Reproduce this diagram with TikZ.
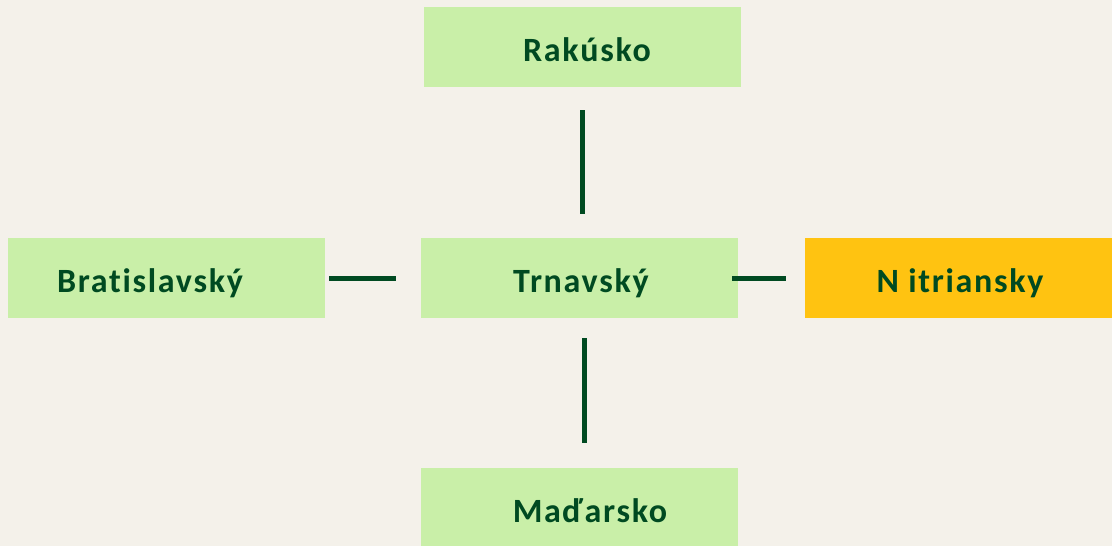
\documentclass[tikz,border=0pt]{standalone}
\usepackage{fontspec}
\newfontfamily\labfont[LetterSpace=5,Ligatures={NoCommon}]{Carlito}
\usetikzlibrary{calc}
\definecolor{bg}{HTML}{F4F1EA}
\definecolor{boxgreen}{HTML}{C9EFA8}
\definecolor{boxorange}{HTML}{FFC311}
\definecolor{ink}{HTML}{004A21}
\tikzset{
  box/.style={rectangle, draw=none, fill=boxgreen, minimum width=317pt, minimum height=80pt, inner sep=0pt},
  hlbox/.style={box, fill=boxorange, minimum width=307pt},
  lab/.style={text=ink, font=\labfont\bfseries\fontsize{34}{40}\selectfont, inner sep=0pt, anchor=base},
  link/.style={draw=ink, line width=5pt}
}
\begin{document}
\begin{tikzpicture}[x=1pt,y=-1pt]
\useasboundingbox (0,0) rectangle (1112,546);
\fill[bg] (0,0) rectangle (1112,546);
\node[box] (rak) at (582.5,47) {};
\node[box] (bra) at (166.5,278) {};
\node[box] (trn) at (579.5,278) {};
\node[hlbox] (nit) at (958.5,278) {};
\node[box] (mad) at (579.5,508) {};
\node[lab] (rakT) at (587,61) {Rakúsko};
\node[lab] (braT) at (150,292) {Bratislavský};
\node[lab] (trnT) at (581,292) {Trnavský};
\node[lab] (nitT) at (960,292) {N itriansky};
\node[lab] (madT) at (590,522) {Maďarsko};
\draw[link] ([xshift=-0.5pt,yshift=-23pt]rak.south) -- ([xshift=2.5pt,yshift=24pt]trn.north);
\draw[link] ([xshift=4.5pt,yshift=-20pt]trn.south) -- ([xshift=4.5pt,yshift=25pt]mad.north);
\draw[link] ([xshift=4pt]bra.east) -- ([xshift=-25pt]trn.west);
\draw[link] ([xshift=-6pt]trn.east) -- ([xshift=-19pt]nit.west);
\end{tikzpicture}
\end{document}
